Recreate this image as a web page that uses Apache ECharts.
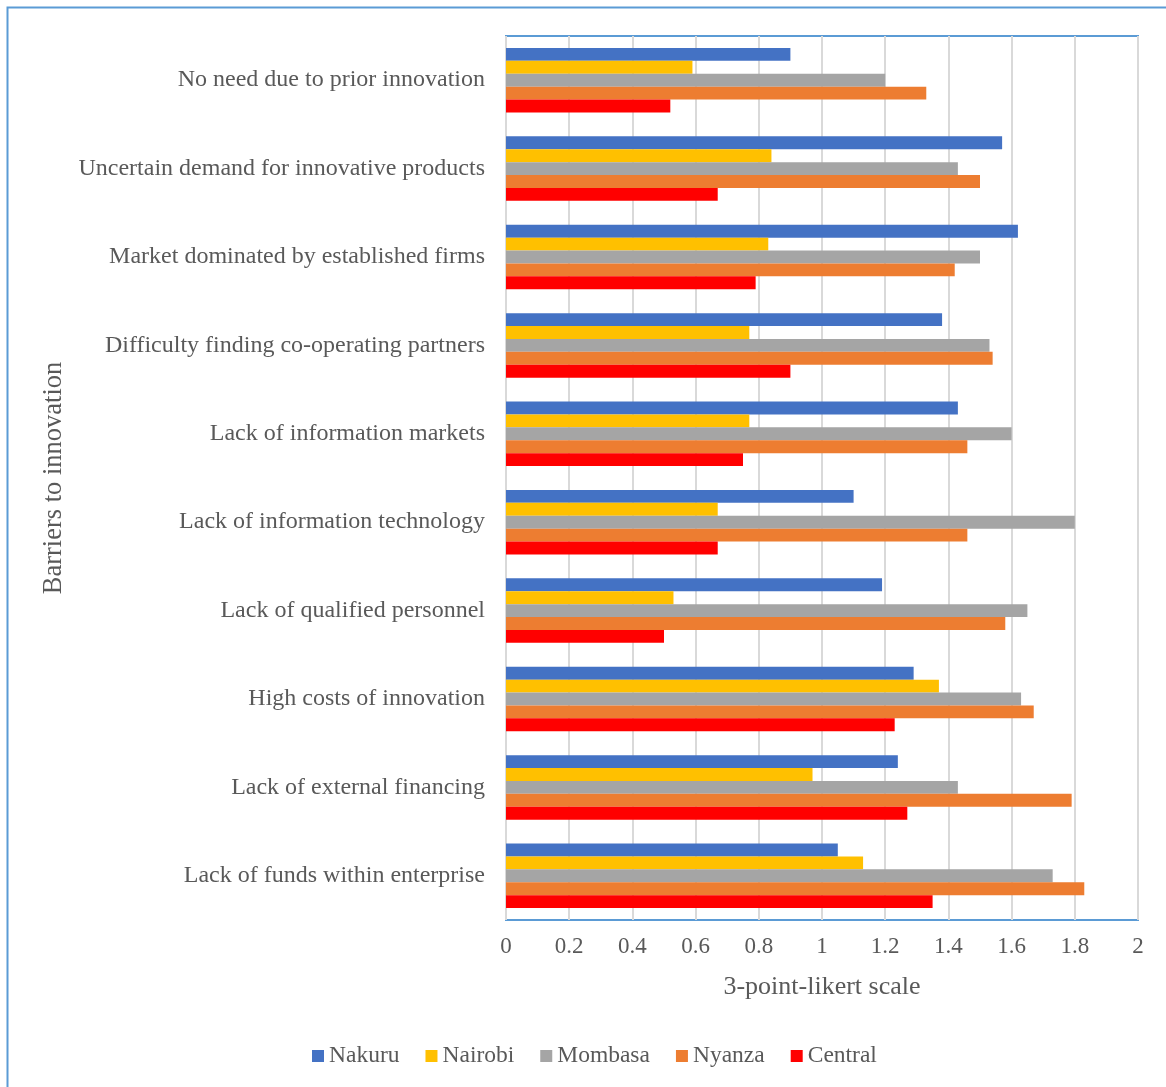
<!DOCTYPE html>
<html>
<head>
<meta charset="utf-8">
<script src="https://cdn.jsdelivr.net/npm/echarts@6/dist/echarts.min.js"></script>
<style>
  html, body { margin: 0; padding: 0; background: #fff; }
  #chart { width: 1166px; height: 1087px; }
</style>
</head>
<body>
<div id="chart"></div>
<script>
// Barriers to innovation, listed top to bottom
const categories = [
  'No need due to prior innovation',
  'Uncertain demand for innovative products',
  'Market dominated by established firms',
  'Difficulty finding co-operating partners',
  'Lack of information markets',
  'Lack of information technology',
  'Lack of qualified personnel',
  'High costs of innovation',
  'Lack of external financing',
  'Lack of funds within enterprise'
];

// Mean scores on the 3-point Likert scale, one array per region
const nakuru  = [0.90, 1.57, 1.62, 1.38, 1.43, 1.10, 1.19, 1.29, 1.24, 1.05];
const nairobi = [0.59, 0.84, 0.83, 0.77, 0.77, 0.67, 0.53, 1.37, 0.97, 1.13];
const mombasa = [1.20, 1.43, 1.50, 1.53, 1.60, 1.80, 1.65, 1.63, 1.43, 1.73];
const nyanza  = [1.33, 1.50, 1.42, 1.54, 1.46, 1.46, 1.58, 1.67, 1.79, 1.83];
const central = [0.52, 0.67, 0.79, 0.90, 0.75, 0.67, 0.50, 1.23, 1.27, 1.35];

const xTicks = ['0', '0.2', '0.4', '0.6', '0.8', '1', '1.2', '1.4', '1.6', '1.8', '2'];

const regions = [
  { name: 'Nakuru',  data: nakuru,  color: '#4472C4' },
  { name: 'Nairobi', data: nairobi, color: '#FFC000' },
  { name: 'Mombasa', data: mombasa, color: '#A5A5A5' },
  { name: 'Nyanza',  data: nyanza,  color: '#ED7D31' },
  { name: 'Central', data: central, color: '#FF0000' }
];

const FONT = '"Liberation Serif", "Times New Roman", serif';
const TEXT = '#595959';

const chart = echarts.init(document.getElementById('chart'), null, { renderer: 'canvas' });

chart.setOption({
  backgroundColor: '#ffffff',
  animation: false,
  textStyle: { fontFamily: FONT, color: TEXT },
  graphic: [{
    type: 'rect',
    left: 5, top: 5,
    shape: { width: 1300, height: 1200 },
    style: { fill: 'none', stroke: '#5B9BD5', lineWidth: 2 },
    silent: true, z: -10
  }],
  grid: {
    left: 506, top: 36, width: 632, height: 884,
    show: true,
    borderColor: '#5B9BD5', borderWidth: 2,
    backgroundColor: 'transparent',
    containLabel: false
  },
  legend: {
    data: regions.map(r => r.name),
    left: 312, top: 1044,
    padding: 0,
    itemWidth: 12, itemHeight: 12, itemGap: 26,
    icon: 'rect',
    textStyle: { fontFamily: FONT, fontSize: 23.5, color: TEXT }
  },
  xAxis: {
    type: 'value',
    min: 0, max: 2, interval: 0.2,
    name: '3-point-likert scale',
    nameLocation: 'middle',
    nameGap: 54,
    nameTextStyle: { fontFamily: FONT, fontSize: 26, color: TEXT },
    axisLine: { show: false },
    axisTick: { show: false },
    axisLabel: {
      margin: 15,
      fontFamily: FONT, fontSize: 23, color: TEXT,
      formatter: v => xTicks[Math.round(v / 0.2)]
    },
    splitLine: { show: true, lineStyle: { color: '#D9D9D9', width: 2 } }
  },
  yAxis: {
    type: 'category',
    data: categories,
    inverse: true,
    name: 'Barriers to innovation',
    nameLocation: 'middle',
    nameGap: 423,
    nameRotate: 90,
    nameTextStyle: { fontFamily: FONT, fontSize: 26.5, color: TEXT },
    axisLine: { show: false },
    axisTick: { show: false },
    axisLabel: { margin: 21, fontFamily: FONT, fontSize: 24, color: TEXT },
    splitLine: { show: false }
  },
  series: regions.map(r => ({
    name: r.name,
    type: 'bar',
    data: r.data,
    barGap: '0%',
    barCategoryGap: '27%',
    itemStyle: { color: r.color },
    emphasis: { disabled: true }
  }))
});
</script>
</body>
</html>
